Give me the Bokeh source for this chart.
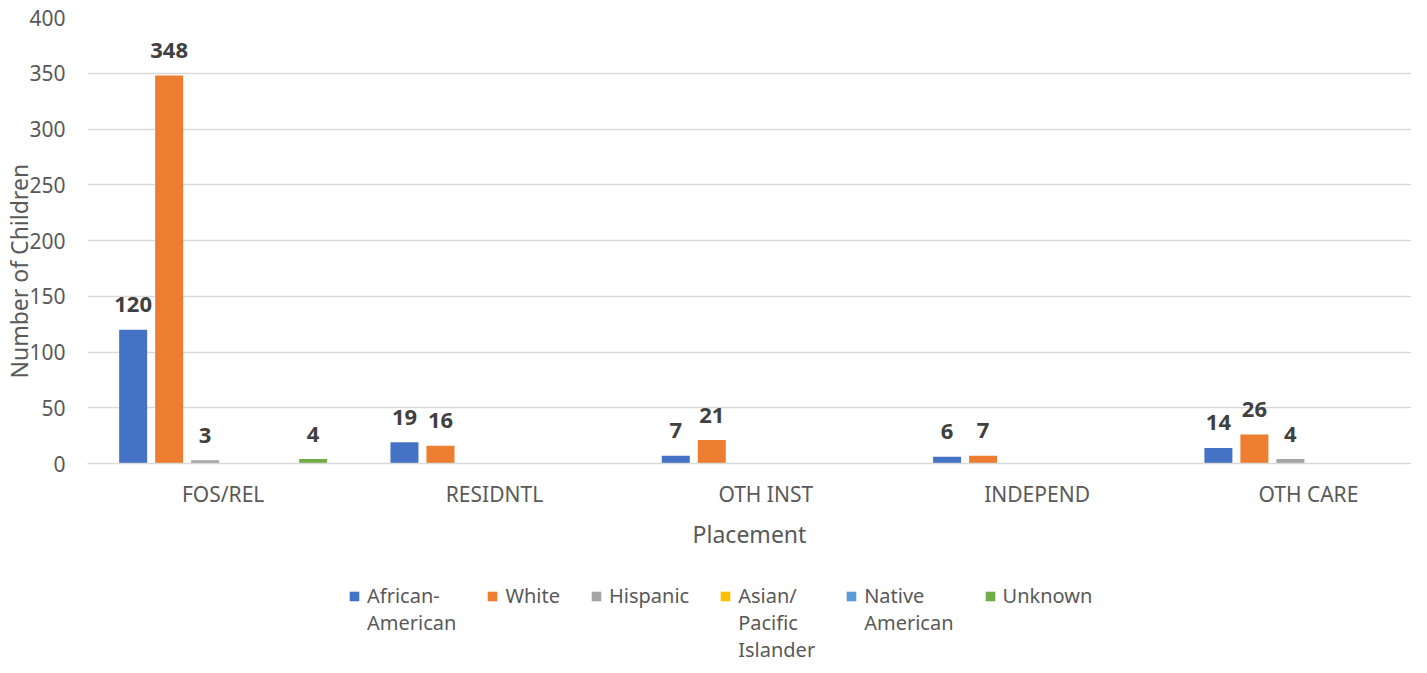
from bokeh.plotting import figure
from bokeh.layouts import column
from bokeh.models import (ColumnDataSource, Range1d, Legend, LegendItem,
                          Title, FixedTicker)
from bokeh.core.properties import value
from bokeh.embed import file_html
from bokeh.resources import INLINE

# ---- data ----
placements = ["FOS/REL", "RESIDNTL", "OTH INST", "INDEPEND", "OTH CARE"]
series_names = ["African-American", "White", "Hispanic", "Asian/Pacific Islander",
                "Native American", "Unknown"]
# legend labels wrapped as in the original; blank lines keep the first line level
# with the colour key
legend_labels = ["\n\nAfrican-\nAmerican\n\n", "\n\nWhite\n\n\n", "\n\nHispanic\n\n\n",
                 "\n\nAsian/\nPacific\nIslander", "\n\nNative\nAmerican\n\n",
                 "\n\nUnknown\n\n\n"]
african_american = [120, 19, 7, 6, 14]
white = [348, 16, 21, 7, 26]
hispanic = [3, 0, 0, 0, 4]
asian_pacific_islander = [0, 0, 0, 0, 0]
native_american = [0, 0, 0, 0, 0]
unknown = [4, 0, 0, 0, 0]
series_values = [african_american, white, hispanic, asian_pacific_islander,
                 native_american, unknown]
colors = ["#4472C4", "#ED7D31", "#A5A5A5", "#FFC000", "#5B9BD5", "#70AD47"]
y_ticks = [0, 50, 100, 150, 200, 250, 300, 350, 400]
x_title = "Placement"
y_title = "Number of Children"

FONT = "Noto Sans"
GREY = "#595959"

cat_centers = [i + 0.5 for i in range(len(placements))]

# ---- main chart (the original's plot area runs past the right edge) ----
p = figure(width=1411, height=560, output_backend="svg", toolbar_location=None,
           x_range=Range1d(0, 4.88), y_range=Range1d(0, 400),
           min_border_left=87, min_border_right=0, min_border_top=17,
           min_border_bottom=97)
p.outline_line_color = None
p.background_fill_color = "white"

pitch = 0.1327
bar_w = 0.1032

for i, (vals, col) in enumerate(zip(series_values, colors)):
    off = (i - 2.5) * pitch
    src = ColumnDataSource(dict(x=[c + off for c in cat_centers], v=vals))
    p.vbar(x="x", top="v", width=bar_w, source=src, fill_color=col, line_color=None)
    xs = [c + off for c, v in zip(cat_centers, vals) if v > 0]
    vs = [v for v in vals if v > 0]
    if xs:
        tsrc = ColumnDataSource(dict(x=xs, v=vs, t=[str(v) for v in vs]))
        p.text(x="x", y="v", text="t", source=tsrc,
               text_align="center", text_baseline="middle", y_offset=-25,
               text_font=value(FONT), text_font_style="bold", text_font_size="22px",
               text_color="#404040")

p.xgrid.grid_line_color = None
p.ygrid.grid_line_color = "#d9d9d9"
p.ygrid.grid_line_width = 1.3

p.yaxis.ticker = FixedTicker(ticks=y_ticks)
p.yaxis.axis_line_color = None
p.yaxis.major_tick_line_color = None
p.yaxis.minor_tick_line_color = None
p.yaxis.major_tick_out = 0
p.yaxis.minor_tick_out = 0
p.yaxis.major_label_standoff = 22
p.yaxis.major_label_text_font = FONT
p.yaxis.major_label_text_font_size = "21px"
p.yaxis.major_label_text_color = GREY

p.xaxis.ticker = FixedTicker(ticks=cat_centers)
p.xaxis.major_label_overrides = {c: name for c, name in zip(cat_centers, placements)}
p.xaxis.axis_line_color = "#d9d9d9"
p.xaxis.axis_line_width = 1.3
p.xaxis.major_tick_line_color = None
p.xaxis.minor_tick_line_color = None
p.xaxis.major_tick_out = 0
p.xaxis.minor_tick_out = 0
p.xaxis.major_label_standoff = 16
p.xaxis.major_label_text_font = FONT
p.xaxis.major_label_text_font_size = "21px"
p.xaxis.major_label_text_color = GREY
p.xaxis.axis_label = x_title
p.xaxis.axis_label_standoff = 7
p.xaxis.axis_label_text_font = FONT
p.xaxis.axis_label_text_font_size = "23px"
p.xaxis.axis_label_text_font_style = "normal"
p.xaxis.axis_label_text_color = GREY

p.add_layout(Title(text=y_title, align="left", offset=85, standoff=-16,
                   text_font=FONT, text_font_size="23px", text_font_style="normal",
                   text_color=GREY), "left")

# ---- legend strip ----
lf = figure(width=1411, height=97, output_backend="svg", toolbar_location=None,
            x_axis_type=None, y_axis_type=None,
            x_range=Range1d(0, 1), y_range=Range1d(0, 1),
            min_border_left=87, min_border_right=0, min_border_top=0,
            min_border_bottom=0)
lf.outline_line_color = None
lf.xgrid.grid_line_color = None
lf.ygrid.grid_line_color = None
items = []
for name, lab, col in zip(series_names, legend_labels, colors):
    r = lf.vbar(x=[-10.0], top=[0.0], width=0.0, fill_color=col, line_color=None,
                name=name)
    items.append(LegendItem(label=lab, renderers=[r]))

legend = Legend(items=items, orientation="horizontal", location=(261, -6),
                margin=0, padding=0, spacing=30, label_standoff=7,
                glyph_width=12, glyph_height=12,
                label_text_font=FONT, label_text_font_size="20px",
                label_text_color=GREY,
                border_line_color=None, background_fill_alpha=0)
lf.add_layout(legend)

open("out.html", "w").write(file_html(column(p, lf), INLINE))
